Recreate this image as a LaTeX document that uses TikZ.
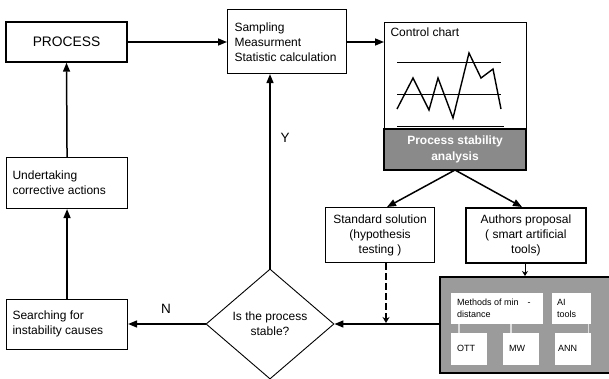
\documentclass[tikz,border=0pt]{standalone}
\usepackage{fontspec}
\setmainfont{Liberation Sans}
\usetikzlibrary{arrows.meta,shapes.geometric}
\definecolor{bandgray}{HTML}{8A8A8A}
\definecolor{boxgray}{HTML}{9B9B9B}
\definecolor{linkgray}{HTML}{DDDDDD}
\begin{document}
\begin{tikzpicture}[x=1pt,y=-1pt,
  box/.style={draw, line width=1.1pt, fill=white, inner sep=0pt},
  txt/.style={font=\fontsize{12}{15}\selectfont, align=left, anchor=west},
  arr/.style={line width=1.5pt, -{Triangle[length=9pt,width=7pt]}},
  small/.style={draw=none, fill=white, font=\fontsize{9}{11.5}\selectfont, align=left, anchor=north west, inner sep=0pt},
  link/.style={draw=linkgray, line width=1.5pt}]
\useasboundingbox (0,0) rectangle (609,379);
% boxes
\node[box, minimum width=121pt, minimum height=40pt, line width=1.4pt, font=\fontsize{13.8}{16}\selectfont] (proc) at (66.5,42) {PROCESS};
\node[box, minimum width=119pt, minimum height=64pt, anchor=north west] (samp) at (227,9) {};
\node[txt] at (231,42) {Sampling\\Measurment\\Statistic calculation};
\node[box, minimum width=142pt, minimum height=148pt, anchor=north west] (cc) at (384,22) {};
\fill[fill=bandgray, draw=black, line width=1.1pt] (384,129) rectangle (526,170);
\node[font=\bfseries\fontsize{12}{15.5}\selectfont, text=white, align=center] (psa) at (455,149.5) {Process stability\\analysis};
\node[txt, anchor=north west] (cctitle) at (387,24) {Control chart};
\draw[line width=0.8pt] (397,62) -- (501,62);
\draw[line width=0.8pt] (397,94) -- (501,94);
\draw[line width=0.8pt] (397,126) -- (504,126);
\draw[line width=1.4pt, line join=miter] (397,109) -- (413,78) -- (429,110) -- (438,78) -- (453,118) -- (469,53) -- (481,78) -- (493,69) -- (501,109);
\node[box, minimum width=121pt, minimum height=51pt, anchor=north west] (und) at (6,157) {};
\node[txt] at (9,182.5) {Undertaking\\corrective actions};
\node[box, minimum width=121pt, minimum height=50pt, anchor=north west] (sea) at (6,299) {};
\node[txt] at (9,324) {Searching for\\instability causes};
\node[draw, diamond, line width=0.9pt, minimum width=128pt, minimum height=110pt, inner sep=0pt, font=\fontsize{12}{15}\selectfont, align=center] (dia) at (270,324) {Is the process\\stable?};
\node[box, minimum width=109pt, minimum height=55pt, anchor=north west, font=\fontsize{12}{15}\selectfont, align=center] (std) at (325,207) {Standard solution\\(hypothesis\\testing )};
\node[box, line width=1.8pt, minimum width=120pt, minimum height=55pt, anchor=north west, font=\fontsize{12}{15}\selectfont, align=center] (aut) at (465,207) {Authors proposal\\( smart artificial\\tools)};
\node[draw, line width=2pt, fill=boxgray, minimum width=170pt, minimum height=96pt, anchor=north west, inner sep=0pt] (gb) at (439,276) {};
% inner boxes
\node[small, minimum width=92pt, minimum height=31pt] (mm) at (451,293) {};
\node[small, anchor=west] at (457,308.5) {Methods of min\quad -\\distance};
\node[small, minimum width=39pt, minimum height=31pt] (ai) at (552,293) {};
\node[small, anchor=west] at (557,308.5) {AI\\tools};
\node[small, minimum width=36pt, minimum height=32pt] (ott) at (451,333) {};
\node[small, anchor=west] at (457,348) {OTT};
\node[small, minimum width=36pt, minimum height=32pt] (mw) at (503,333) {};
\node[small, anchor=west] at (509,348) {MW};
\node[small, minimum width=36pt, minimum height=32pt] (ann) at (555,333) {};
\node[small, anchor=west] at (558,348) {ANN};
\draw[link] (mm.south west) ++(8,0) -- ++(0,9);
\draw[link] (mm.south west) ++(60,0) -- ++(0,9);
\draw[link] (ai.south east) ++(-3,0) -- ++(0,9);
% connectors
\draw[arr] (proc.east) -- (samp.west |- proc.east);
\draw[arr] (samp.east |- proc.east) -- (cc.west |- proc.east);
\draw[arr] (und.north) -- (proc.south);
\draw[arr] (sea.north) -- (und.south);
\draw[arr] (dia.north) -- (samp.south -| dia.north);
\draw[arr] (dia.west) -- (sea.east |- dia.west);
\node[font=\fontsize{13.5}{15}\selectfont] (ylab) at (285,138) {Y};
\node[font=\fontsize{13.5}{15}\selectfont] (nlab) at (166,309) {N};
\coordinate (ccb) at (455,170);
\draw[arr] (ccb) -- (387,207);
\draw[arr] (ccb) -- (522,207);
\draw[arr] (gb.west |- dia.east) -- (dia.east);
\draw[line width=2.8pt, dash pattern=on 7pt off 3pt, -{Stealth[length=6pt,width=7pt]}] (std.south -| 386,0) -- (386,323);
\draw[line width=0.9pt, -{Stealth[length=5pt,width=6pt]}] (aut.south -| 525,0) -- (gb.north -| 525,0);
\end{tikzpicture}
\end{document}
